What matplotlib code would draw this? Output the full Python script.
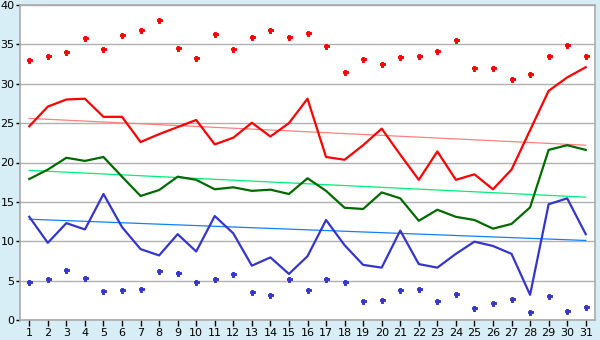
import numpy as np
import matplotlib.pyplot as plt

days = list(range(1, 32))

# daily maximum / mean / minimum and extreme points
red_line = [24.6, 27.1, 28.0, 28.1, 25.8, 25.8, 22.6, 23.6, 24.5, 25.4,
            22.3, 23.15, 25.05, 23.3, 25.0, 28.1, 20.7, 20.35, 22.2, 24.3,
            21.0, 17.8, 21.4, 17.8, 18.5, 16.6, 19.1, 24.1, 29.1, 30.8, 32.1]
green_line = [17.9, 19.1, 20.6, 20.2, 20.7, 18.2, 15.75, 16.5, 18.2, 17.8,
              16.6, 16.85, 16.4, 16.55, 16.0, 18.0, 16.4, 14.25, 14.1, 16.2,
              15.45, 12.6, 14.0, 13.1, 12.7, 11.6, 12.2, 14.3, 21.6, 22.2, 21.6]
blue_line = [13.1, 9.8, 12.3, 11.5, 16.0, 11.8, 9.0, 8.2, 10.9, 8.7,
             13.2, 11.0, 6.9, 7.95, 5.85, 8.1, 12.7, 9.5, 7.0, 6.65,
             11.35, 7.1, 6.65, 8.4, 9.95, 9.4, 8.4, 3.2, 14.7, 15.45, 10.9]
red_dots = [33.0, 33.5, 34.0, 35.8, 34.4, 36.2, 36.8, 38.1, 34.6, 33.3,
            36.3, 34.4, 35.9, 36.8, 36.0, 36.5, 34.75, 31.5, 33.2, 32.5,
            33.35, 33.5, 34.1, 35.5, 32.0, 32.0, 30.6, 31.3, 33.5, 34.9, 33.5]
blue_dots = [4.8, 5.15, 6.35, 5.3, 3.65, 3.75, 3.9, 6.2, 5.95, 4.8,
             5.15, 5.8, 3.5, 3.15, 5.15, 3.75, 5.15, 4.8, 2.35, 2.5,
             3.75, 3.9, 2.35, 3.25, 1.5, 2.1, 2.65, 1.0, 3.0, 1.1, 1.65]

# trend line end values (day 1, day 31)
trend_days = [1, 31]
red_trend = [25.6, 22.2]
green_trend = [19.0, 15.6]
blue_trend = [12.8, 10.1]

bg = '#d7eef6'
fig = plt.figure(figsize=(6, 3.4), dpi=100, facecolor=bg)
ax = fig.add_axes([20 / 600, 20 / 340, 575 / 600, 315 / 340])
ax.set_facecolor('white')

ax.plot(trend_days, red_trend, color='#ff8080', lw=0.9)
ax.plot(trend_days, green_trend, color='#00ee77', lw=0.9)
ax.plot(trend_days, blue_trend, color='#1080ff', lw=0.9)

ax.plot(days, red_line, color='#ff0000', lw=1.6)
ax.plot(days, green_line, color='#006a00', lw=1.6)
ax.plot(days, blue_line, color='#3535cc', lw=1.6)

ax.plot(days, red_dots, ls='none', marker='P', ms=3.6, color='#ff0000', mew=0.7)
ax.plot(days, blue_dots, ls='none', marker='P', ms=3.6, color='#3535cc', mew=0.7)

ax.set_xlim(0.5, 31.5)
ax.set_ylim(0, 40)
ax.set_xticks(days)
ax.set_yticks(range(0, 41, 5))
ax.yaxis.grid(True, color='#b0b0b0', lw=1)
ax.set_axisbelow(True)
for s in ax.spines.values():
    s.set_color('#aaaaaa')
    s.set_linewidth(1.2)
ax.tick_params(axis='x', length=4, width=1, pad=2, labelsize=8)
ax.tick_params(axis='y', length=3, width=1, pad=1, labelsize=8)

fig.savefig('out.png', dpi=100, facecolor=bg)
